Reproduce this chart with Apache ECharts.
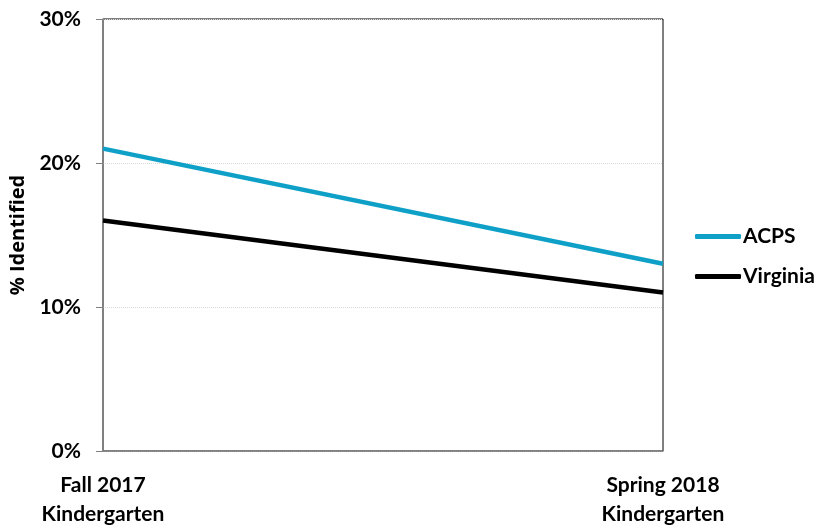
<!DOCTYPE html>
<html><head><meta charset="utf-8">
<script src="https://cdn.jsdelivr.net/npm/echarts@6/dist/echarts.min.js"></script>
<style>html,body{margin:0;padding:0;background:#fff}#c{width:821px;height:529px}</style>
</head><body><div id="c"></div>
<script>
const categories = ['Fall 2017\nKindergarten', 'Spring 2018\nKindergarten'];
const acps = [21, 13];
const virginia = [16, 11];
const yTicks = [0, 10, 20, 30];

const chart = echarts.init(document.getElementById('c'), null, {renderer: 'canvas'});
const font = 'Lato, "Open Sans", sans-serif';
chart.setOption({
  animation: false,
  backgroundColor: '#fff',
  grid: {left: 103, right: 158, top: 19, bottom: 75, show: true, borderColor: '#000', borderWidth: 1},
  legend: {
    orient: 'vertical', left: 690, top: 221, itemWidth: 46, itemHeight: 5, itemGap: 19,
    icon: 'roundRect',
    textStyle: {fontFamily: font, fontWeight: 'bold', fontSize: 21, color: '#000', padding: [0,0,0,-3]},
    data: ['ACPS', 'Virginia']
  },
  xAxis: {
    type: 'category', data: categories, boundaryGap: false,
    axisLine: {lineStyle: {color: '#808080', width: 1.5}},
    axisTick: {show: false},
    axisLabel: {fontFamily: font, fontWeight: 'bold', fontSize: 21, color: '#000', lineHeight: 29, margin: 20}
  },
  yAxis: {
    type: 'value', min: yTicks[0], max: yTicks[yTicks.length-1], interval: 10,
    name: '% Identified', nameLocation: 'middle', nameGap: 74,
    nameTextStyle: {fontFamily: '"Open Sans", Lato, sans-serif', fontWeight: 'bold', fontSize: 20, color: '#000'},
    axisLine: {show: true, lineStyle: {color: '#808080', width: 1.5}},
    axisTick: {show: true, length: 7, lineStyle: {color: '#808080'}},
    axisLabel: {fontFamily: font, fontWeight: 'bold', fontSize: 21, color: '#000', margin: 22, formatter: v => v + '%'},
    splitLine: {show: true, lineStyle: {color: '#d9d9d9', type: 'dotted', width: 1}}
  },
  series: [
    {name: 'ACPS', type: 'line', data: acps, symbol: 'none', lineStyle: {color: '#0fa0c8', width: 4.5}, itemStyle: {color: '#0fa0c8'}},
    {name: 'Virginia', type: 'line', data: virginia, symbol: 'none', lineStyle: {color: '#000', width: 4.5}, itemStyle: {color: '#000'}}
  ]
});
</script></body></html>
